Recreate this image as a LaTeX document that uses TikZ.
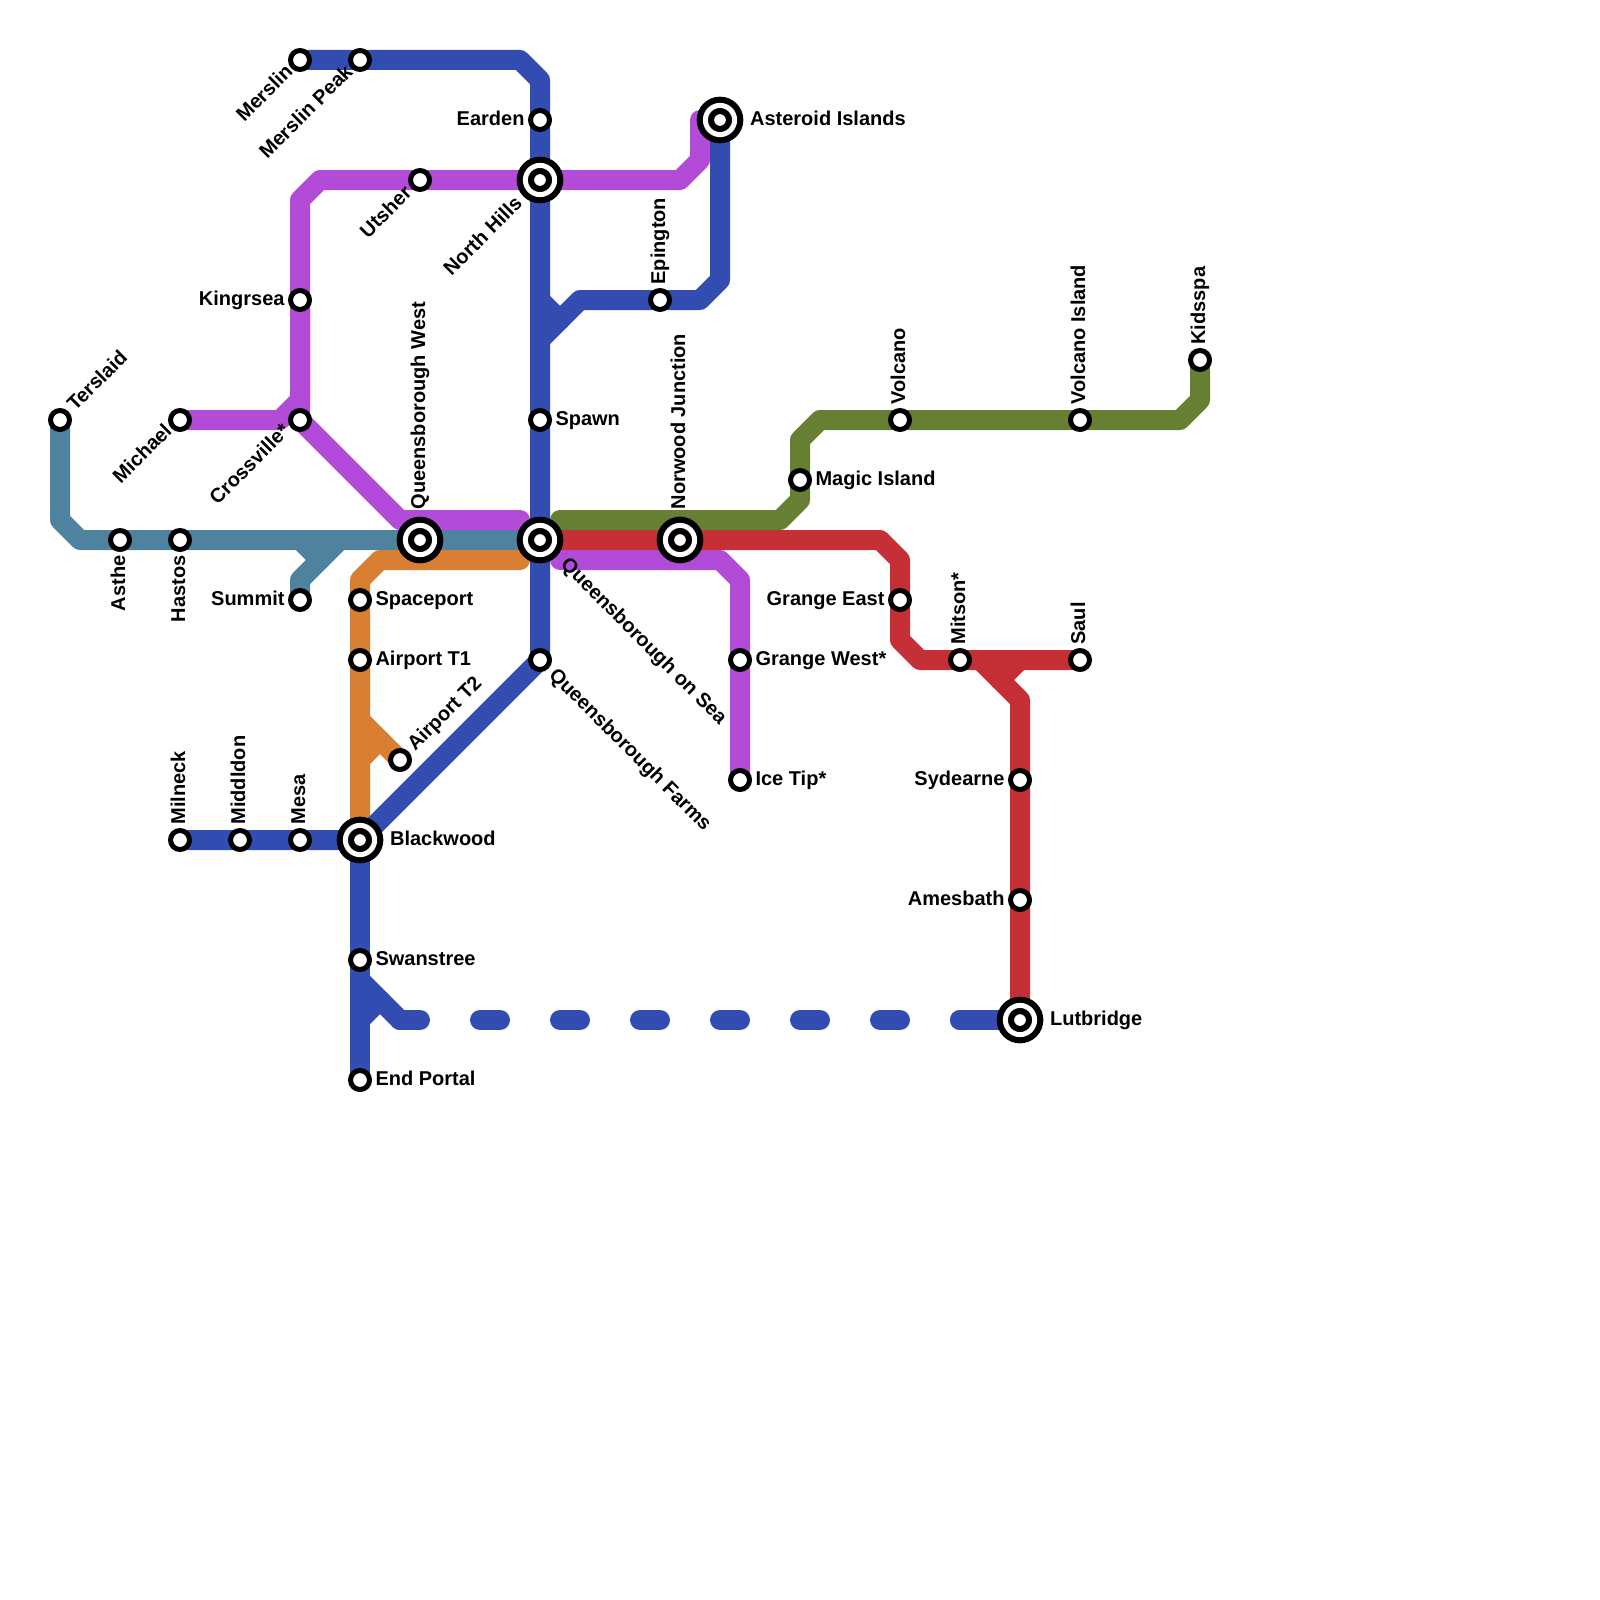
\documentclass[tikz,border=0pt]{standalone}
\usepackage{fontspec}
\setmainfont{Liberation Sans}
\usepackage{xcolor}
\usepackage{tikz}
\usetikzlibrary{positioning,backgrounds}
\definecolor{teal_line}{RGB}{78,130,158}
\definecolor{green_line}{RGB}{102,127,51}
\definecolor{purple_line}{RGB}{178,76,216}
\definecolor{orange_line}{RGB}{217,127,51}
\definecolor{red_line}{RGB}{197,47,54}
\definecolor{blue_line}{RGB}{51,76,178}

\begin{document}
\begin{tikzpicture}[
    x=1pt, y=-1pt,
    stop/.style={circle, draw=black, fill=white, line width=5pt, minimum size=19pt, inner sep=0pt, outer sep=0pt, on grid},
    ringstop/.style={circle, draw=black, fill=white, line width=6.2pt, double=white, double distance=5pt, minimum size=29.2pt, inner sep=0pt, outer sep=0pt, on grid},
    lab/.style={font=\fontsize{20}{22}\selectfont\bfseries, text height=14pt, text depth=4pt, inner sep=0pt, outer sep=0pt},
    metro/.style={line width=20pt, line join=round, line cap=round},
]
\useasboundingbox (0,0) rectangle (1600,1600);

% === WEST SIDE ===
\node[stop] (terslaid) at (60,420) {};
\node[stop, below right=120pt and 60pt of terslaid] (asthe) {};
\node[stop, right=60pt of asthe] (hastos) {};
\node[stop, above=120pt of hastos] (michael) {};
\node[stop, right=120pt of michael] (crossville) {};
\node[stop, above=120pt of crossville] (kingrsea) {};
\node[stop, below=180pt of crossville] (summit) {};
\node[stop, above=240pt of kingrsea] (merslin) {};
\node[stop, right=60pt of merslin] (merslin_peak) {};
\node[stop, below right=120pt and 60pt of merslin_peak] (utsher) {};
\node[ringstop, below=360pt of utsher] (qwest) {};

% === CENTRE ===
\node[ringstop, right=120pt of utsher] (north_hills) {};
\node[stop, above=60pt of north_hills] (earden) {};
\node[stop, below=240pt of north_hills] (spawn) {};
\node[ringstop, below=120pt of spawn] (qsea) {};
\node[stop, below=120pt of qsea] (qfarms) {};
\node[ringstop, right=180pt of earden] (asteroid) {};
\node[stop, below right=180pt and 120pt of earden] (epington) {};
\node[ringstop, right=140pt of qsea] (norwood) {};
\node[stop, below right=120pt and 60pt of norwood] (grange_west) {};
\node[stop, below=120pt of grange_west] (ice_tip) {};

% === SOUTH ===
\node[stop, below left=60pt and 60pt of qwest] (spaceport) {};
\node[stop, below=60pt of spaceport] (airport_one) {};
\node[stop, below right=100pt and 40pt of airport_one] (airport_two) {};
\node[ringstop, below=180pt of airport_one] (blackwood) {};
\node[stop, left=60pt of blackwood] (mesa) {};
\node[stop, left=60pt of mesa] (middldon) {};
\node[stop, left=60pt of middldon] (milneck) {};
\node[stop, below=120pt of blackwood] (swanstree) {};
\node[stop, below=120pt of swanstree] (end_portal) {};

% === EAST SIDE ===
\node[stop, above right=60pt and 120pt of norwood] (magic_island) {};
\node[stop, above right=60pt and 100pt of magic_island] (volcano) {};
\node[stop, right=180pt of volcano] (volcano_island) {};
\node[stop, above right=60pt and 120pt of volcano_island] (kidsspa) {};
\node[stop, below=180pt of volcano] (grange_east) {};
\node[stop, below right=60pt and 60pt of grange_east] (mitson) {};
\node[stop, right=120pt of mitson] (saul) {};
\node[stop, below right=120pt and 60pt of mitson] (sydearne) {};
\node[stop, below=120pt of sydearne] (amesbath) {};
\node[ringstop, below=120pt of amesbath] (lutbridge) {};

% === LINES ===
\begin{scope}[on background layer]
\draw[metro, teal_line] (terslaid.center) -- ++(0,100) -- ++(20,20) -- (qsea.center);
\draw[metro, teal_line] (summit.center) -- ++(0,-20) -- ++(40,-40);
\draw[metro, teal_line] (summit.center) ++(0,-60) -- ++(20,20);

\draw[metro, green_line] (qsea.center) ++(20,-20) -- ++(220,0) -- ++(20,-20) -- (magic_island.center) -- ++(0,-40) -- ++(20,-20) -- (volcano.center) -- (volcano_island.center) -- ++(100,0) -- ++(20,-20) -- (kidsspa.center);

\draw[metro, purple_line] (michael.center) -- ++(100,0) -- ++(20,-20) -- (kingrsea.center) -- ++(0,-100) -- ++(20,-20) -- (north_hills.center) -- ++(140,0) -- ++(20,-20) -- ++(0,-40) -- (asteroid.center);
\draw[metro, purple_line] (kingrsea.center) -- (crossville.center) -- ++(100,100) -- ++(120,0);
\draw[metro, purple_line] (qsea.center) ++(20,20) -- ++(160,0) -- ++(20,20) -- (grange_west.center) -- (ice_tip.center);

\draw[metro, orange_line] (qsea.center) ++(-20,20) -- ++(-140,0) -- ++(-20,20) -- (spaceport.center) -- (airport_one.center) -- (blackwood.center);
\draw[metro, orange_line] (airport_one.center) ++(0,60) -- (airport_two.center);
\draw[metro, orange_line] (airport_two.center) ++(-20,-20) -- ++(-20,20);

\draw[metro, red_line] (qsea.center) -- (norwood.center) -- ++(200,0) -- ++(20,20) -- (grange_east.center) -- ++(0,40) -- ++(20,20) -- (mitson.center) -- (saul.center);
\draw[metro, red_line] (mitson.center) ++(20,0) -- ++(40,40) -- (sydearne.center) -- (amesbath.center) -- (lutbridge.center);
\draw[metro, red_line] (saul.center) ++(-60,0) -- ++(-20,20);

\draw[metro, blue_line] (merslin.center) -- (merslin_peak.center) -- ++(160,0) -- ++(20,20) -- (earden.center) -- (north_hills.center) -- (spawn.center) -- (qsea.center) -- (qfarms.center) -- (blackwood.center) -- (mesa.center) -- (middldon.center) -- (milneck.center);
\draw[metro, blue_line] (asteroid.center) -- ++(0,160) -- ++(-20,20) -- (epington.center) -- ++(-80,0) -- ++(-40,40);
\draw[metro, blue_line] (north_hills.center) ++(0,120) -- ++(20,20);
\draw[metro, blue_line] (blackwood.center) -- (swanstree.center) -- (end_portal.center);
\draw[metro, blue_line] (swanstree.center) ++(0,20) -- ++(40,40);
\draw[metro, blue_line] (end_portal.center) ++(0,-60) -- ++(20,-20);
\draw[metro, blue_line, dash pattern=on 20pt off 60pt] (swanstree.center) ++(40,60) -- (lutbridge.center);
\draw[metro, blue_line] (lutbridge.center) -- ++(-60,0);
\end{scope}

% === LABELS ===
\node[lab, rotate=45, above right=5pt and 5pt of terslaid, anchor=west] (terslaid_lab) {Terslaid};
\node[lab, rotate=90, below=6pt of asthe, anchor=east] (asthe_lab) {Asthe};
\node[lab, rotate=90, below=6pt of hastos, anchor=east] (hastos_lab) {Hastos};
\node[lab, rotate=45, below left=2pt and 4pt of michael, anchor=east] (michael_lab) {Michael};
\node[lab, rotate=45, below left=2pt and 6pt of crossville, anchor=east] (crossville_lab) {Crossville*};
\node[lab, left=6pt of kingrsea] (kingrsea_lab) {Kingrsea};
\node[lab, left=6pt of summit] (summit_lab) {Summit};
\node[lab, rotate=45, below left=3pt and 3pt of merslin, anchor=east] (merslin_lab) {Merslin};
\node[lab, rotate=45, below left=3pt and 3pt of merslin_peak, anchor=east] (merslin_peak_lab) {Merslin Peak};
\node[lab, rotate=45, below left=4pt and 4pt of utsher, anchor=east] (utsher_lab) {Utsher};
\node[lab, rotate=90, above=16pt of qwest, anchor=west] (qwest_lab) {Queensborough West};
\node[lab, rotate=45, below left=11pt and 10pt of north_hills, anchor=east] (north_hills_lab) {North Hills};
\node[lab, left=6pt of earden] (earden_lab) {Earden};
\node[lab, right=6pt of spawn] (spawn_lab) {Spawn};
\node[lab, rotate=-45, below right=12pt and 13pt of qsea, anchor=west] (qsea_lab) {Queensborough on Sea};
\node[lab, rotate=-45, below right=6pt and 5pt of qfarms, anchor=west] (qfarms_lab) {Queensborough Farms};
\node[lab, right=15.5pt of asteroid] (asteroid_lab) {Asteroid Islands};
\node[lab, rotate=90, above=6pt of epington, anchor=west] (epington_lab) {Epington};
\node[lab, rotate=90, above=16pt of norwood, anchor=west] (norwood_lab) {Norwood Junction};
\node[lab, right=6pt of grange_west] (grange_west_lab) {Grange West*};
\node[lab, right=6pt of ice_tip] (ice_tip_lab) {Ice Tip*};
\node[lab, right=6pt of spaceport] (spaceport_lab) {Spaceport};
\node[lab, right=6pt of airport_one] (airport_one_lab) {Airport T1};
\node[lab, rotate=45, above right=5pt and 5pt of airport_two, anchor=west] (airport_two_lab) {Airport T2};
\node[lab, right=15.5pt of blackwood] (blackwood_lab) {Blackwood};
\node[lab, rotate=90, above=6pt of mesa, anchor=west] (mesa_lab) {Mesa};
\node[lab, rotate=90, above=6pt of middldon, anchor=west] (middldon_lab) {Middldon};
\node[lab, rotate=90, above=6pt of milneck, anchor=west] (milneck_lab) {Milneck};
\node[lab, right=6pt of swanstree] (swanstree_lab) {Swanstree};
\node[lab, right=6pt of end_portal] (end_portal_lab) {End Portal};
\node[lab, right=6pt of magic_island] (magic_island_lab) {Magic Island};
\node[lab, rotate=90, above=6pt of volcano, anchor=west] (volcano_lab) {Volcano};
\node[lab, rotate=90, above=6pt of volcano_island, anchor=west] (volcano_island_lab) {Volcano Island};
\node[lab, rotate=90, above=6pt of kidsspa, anchor=west] (kidsspa_lab) {Kidsspa};
\node[lab, left=6pt of grange_east] (grange_east_lab) {Grange East};
\node[lab, rotate=90, above=6pt of mitson, anchor=west] (mitson_lab) {Mitson*};
\node[lab, rotate=90, above=6pt of saul, anchor=west] (saul_lab) {Saul};
\node[lab, left=6pt of sydearne] (sydearne_lab) {Sydearne};
\node[lab, left=6pt of amesbath] (amesbath_lab) {Amesbath};
\node[lab, right=15.5pt of lutbridge] (lutbridge_lab) {Lutbridge};

\end{tikzpicture}
\end{document}
